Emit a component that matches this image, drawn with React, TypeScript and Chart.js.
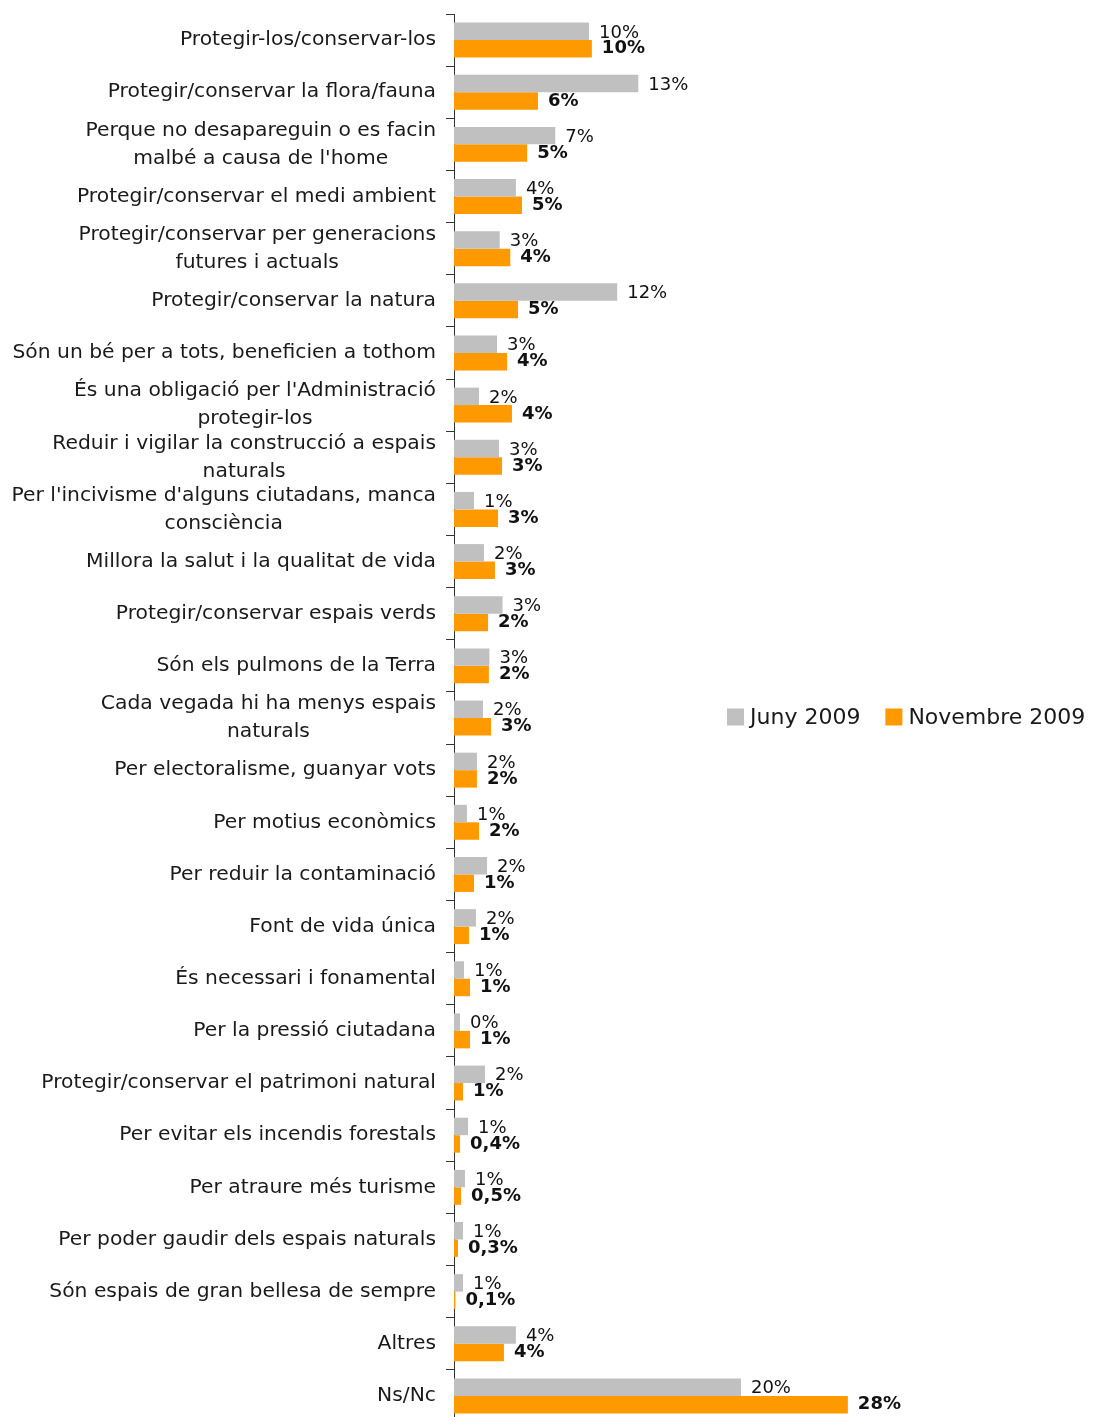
import React, { useEffect, useRef } from "react";
import { Chart, registerables } from "chart.js";

Chart.register(...registerables);

const categories: (string | string[])[] = [
  "Protegir-los/conservar-los",
  "Protegir/conservar la flora/fauna",
  ["Perque no desapareguin o es facin", "malbé a causa de l'home"],
  "Protegir/conservar el medi ambient",
  ["Protegir/conservar per generacions", "futures i actuals"],
  "Protegir/conservar la natura",
  "Són un bé per a tots, beneficien a tothom",
  ["És una obligació per l'Administració", "protegir-los"],
  ["Reduir i vigilar la construcció a espais", "naturals"],
  ["Per l'incivisme d'alguns ciutadans, manca", "consciència"],
  "Millora la salut i la qualitat de vida",
  "Protegir/conservar espais verds",
  "Són els pulmons de la Terra",
  ["Cada vegada hi ha menys espais", "naturals"],
  "Per electoralisme, guanyar vots",
  "Per motius econòmics",
  "Per reduir la contaminació",
  "Font de vida única",
  "És necessari i fonamental",
  "Per la pressió ciutadana",
  "Protegir/conservar el patrimoni natural",
  "Per evitar els incendis forestals",
  "Per atraure més turisme",
  "Per poder gaudir dels espais naturals",
  "Són espais de gran bellesa de sempre",
  "Altres",
  "Ns/Nc",
];

const juny2009 = [
  9.6, 13.1, 7.2, 4.4, 3.25, 11.6, 3.06, 1.78, 3.2, 1.42, 2.13, 3.45, 2.52, 2.06,
  1.63, 0.92, 2.35, 1.56, 0.71, 0.43, 2.2, 1.0, 0.78, 0.64, 0.64, 4.4, 20.4,
];

const novembre2009 = [
  9.8, 5.97, 5.2, 4.83, 4.0, 4.55, 3.77, 4.12, 3.41, 3.13, 2.91, 2.42, 2.48, 2.63,
  1.63, 1.78, 1.42, 1.07, 1.14, 1.14, 0.64, 0.43, 0.5, 0.28, 0.1, 3.55, 28.0,
];

const junyLabels = [
  "10%", "13%", "7%", "4%", "3%", "12%", "3%", "2%", "3%", "1%", "2%", "3%", "3%", "2%",
  "2%", "1%", "2%", "2%", "1%", "0%", "2%", "1%", "1%", "1%", "1%", "4%", "20%",
];

const novembreLabels = [
  "10%", "6%", "5%", "5%", "4%", "5%", "4%", "4%", "3%", "3%", "3%", "2%", "2%", "3%",
  "2%", "2%", "1%", "1%", "1%", "1%", "1%", "0,4%", "0,5%", "0,3%", "0,1%", "4%", "28%",
];

const seriesNames = ["Juny 2009", "Novembre 2009"];
const seriesColors = ["#C0C0C0", "#FF9900"];

const FONT = '"DejaVu Sans", "Noto Sans", sans-serif';

const categoryLabelPlugin = {
  id: "categoryLabels",
  afterDraw(chart: any) {
    const ctx = chart.ctx;
    const y = chart.scales.y;
    const labels = chart.data.labels as (string | string[])[];
    ctx.save();
    ctx.font = `20.3px ${FONT}`;
    ctx.fillStyle = "#1a1a1a";
    ctx.textAlign = "center";
    ctx.textBaseline = "middle";
    const rightEdge = y.right - 18;
    const lh = 28;
    labels.forEach((lab, i) => {
      const lines = Array.isArray(lab) ? lab : [lab];
      const widest = Math.max(...lines.map((l) => ctx.measureText(l).width));
      const cx = rightEdge - widest / 2;
      const cy = y.getPixelForTick(i);
      const startY = cy - ((lines.length - 1) * lh) / 2;
      lines.forEach((l, k) => ctx.fillText(l, cx, startY + k * lh));
    });
    ctx.restore();
  },
};

const valueLabelPlugin = {
  id: "valueLabels",
  afterDatasetsDraw(chart: any) {
    const ctx = chart.ctx;
    const texts = [junyLabels, novembreLabels];
    ctx.save();
    ctx.textAlign = "left";
    ctx.textBaseline = "middle";
    ctx.fillStyle = "#111";
    chart.data.datasets.forEach((ds: any, di: number) => {
      const meta = chart.getDatasetMeta(di);
      ctx.font = di === 0 ? `18px ${FONT}` : `bold 18px ${FONT}`;
      meta.data.forEach((bar: any, i: number) => {
        ctx.fillText(texts[di][i], bar.x + 10, bar.y + (di === 0 ? 1.5 : 0));
      });
    });
    ctx.restore();
  },
};

const legendPlugin = {
  id: "customLegend",
  afterDraw(chart: any) {
    const ctx = chart.ctx;
    const area = chart.chartArea;
    const cy = (area.top + area.bottom) / 2 - 1;
    let x = 727;
    ctx.save();
    ctx.font = `22px ${FONT}`;
    ctx.textBaseline = "middle";
    ctx.textAlign = "left";
    chart.data.datasets.forEach((ds: any) => {
      ctx.fillStyle = ds.backgroundColor;
      ctx.fillRect(x, cy - 8.5, 17, 17);
      x += 23;
      ctx.fillStyle = "#1a1a1a";
      ctx.fillText(ds.label, x, cy + 1);
      x += ctx.measureText(ds.label).width + 25;
    });
    ctx.restore();
  },
};

export default function App() {
  const ref = useRef<HTMLCanvasElement>(null);
  useEffect(() => {
    if (!ref.current) return;
    const chart = new Chart(ref.current, {
      type: "bar",
      data: {
        labels: categories as any,
        datasets: [
          { label: seriesNames[0], data: juny2009, backgroundColor: seriesColors[0] },
          { label: seriesNames[1], data: novembre2009, backgroundColor: seriesColors[1] },
        ],
      },
      options: {
        indexAxis: "y",
        responsive: false,
        animation: false,
        layout: { padding: { top: 14, bottom: 2, left: 0, right: 223 } },
        datasets: { bar: { categoryPercentage: 0.67, barPercentage: 1 } } as any,
        scales: {
          x: { display: false, min: 0, max: 30 },
          y: {
            grid: { offset: true, drawOnChartArea: false, drawTicks: true, tickLength: 8, color: "#333" },
            border: { color: "#333", width: 1 },
            ticks: { display: false },
            afterFit: (s: any) => {
              s.width = 454;
            },
          },
        },
        plugins: { legend: { display: false }, tooltip: { enabled: false } },
      },
      plugins: [categoryLabelPlugin, valueLabelPlugin, legendPlugin],
    });
    return () => chart.destroy();
  }, []);
  return (
    <div
      style={{
        position: "fixed",
        left: 0,
        top: 0,
        width: 1099,
        height: 1417,
        overflow: "hidden",
        background: "#fff",
      }}
    >
      <canvas ref={ref} width={1099} height={1424} style={{ display: "block" }} />
    </div>
  );
}
